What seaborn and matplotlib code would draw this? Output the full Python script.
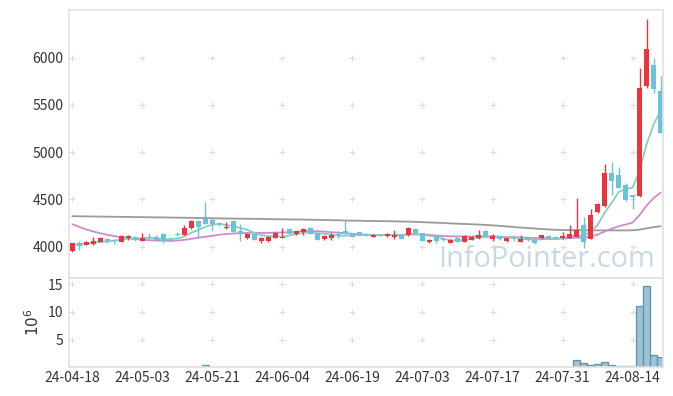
import matplotlib
matplotlib.use("Agg")
import matplotlib.pyplot as plt
import seaborn as sns
import pandas as pd
import numpy as np

# daily candles, one per trading day (index 0 = 24-04-18)
opens = [3950, 4036, 4021, 4025, 4053, 4085, 4064, 4053, 4089, 4103,
         4064, 4100, 4106, 4135, 4085, 4135, 4127, 4195, 4272, 4297,
         4286, 4248, 4195, 4275, 4163, 4092, 4135, 4060, 4060, 4096,
         4092, 4188, 4131, 4160, 4202, 4145, 4085, 4092, 4131, 4163,
         4138, 4152, 4131, 4103, 4124, 4110, 4103, 4124, 4120, 4191,
         4142, 4046, 4120, 4078, 4043, 4096, 4053, 4074, 4089, 4170,
         4085, 4110, 4057, 4092, 4053, 4089, 4074, 4089, 4117, 4103,
         4089, 4096, 4106, 4230, 4085, 4364, 4434, 4778, 4760, 4654,
         4544, 4541, 5702, 5925, 5649]
highs = [4040, 4064, 4058, 4100, 4100, 4092, 4078, 4125, 4125, 4110,
         4142, 4142, 4120, 4140, 4106, 4160, 4230, 4280, 4280, 4470,
         4290, 4265, 4260, 4280, 4240, 4145, 4140, 4100, 4110, 4150,
         4195, 4192, 4170, 4202, 4205, 4148, 4127, 4142, 4166, 4285,
         4142, 4156, 4140, 4130, 4135, 4140, 4180, 4128, 4206, 4195,
         4148, 4078, 4124, 4085, 4078, 4100, 4118, 4112, 4180, 4175,
         4130, 4115, 4092, 4127, 4127, 4092, 4078, 4124, 4120, 4110,
         4155, 4225, 4520, 4311, 4396, 4460, 4873, 4894, 4841, 4670,
         4550, 5890, 6409, 5995, 5811]
lows = [3945, 3965, 4015, 4020, 4050, 4040, 4025, 4050, 4075, 4064,
        4060, 4071, 4064, 4036, 4064, 4110, 4125, 4185, 4106, 4240,
        4170, 4220, 4190, 4155, 4060, 4085, 4065, 4036, 4050, 4090,
        4088, 4130, 4128, 4120, 4130, 4070, 4071, 4071, 4096, 4130,
        4100, 4120, 4110, 4100, 4110, 4106, 4078, 4080, 4115, 4140,
        4060, 4036, 4036, 4064, 4040, 4050, 4050, 4070, 4085, 4106,
        4060, 4074, 4053, 4060, 4050, 4060, 4032, 4085, 4085, 4082,
        4085, 4090, 4100, 3985, 4080, 4360, 4420, 4548, 4620, 4480,
        4402, 4523, 5678, 5625, 5200]
closes = [4035, 4010, 4050, 4064, 4092, 4057, 4057, 4113, 4113, 4071,
          4092, 4089, 4071, 4064, 4078, 4127, 4198, 4272, 4209, 4244,
          4237, 4240, 4212, 4160, 4142, 4138, 4071, 4096, 4106, 4145,
          4106, 4138, 4166, 4188, 4138, 4074, 4113, 4127, 4124, 4135,
          4106, 4127, 4120, 4127, 4117, 4135, 4127, 4085, 4202, 4145,
          4064, 4074, 4057, 4071, 4071, 4053, 4113, 4106, 4127, 4110,
          4110, 4078, 4089, 4085, 4078, 4067, 4039, 4120, 4089, 4090,
          4108, 4135, 4177, 4047, 4336, 4452, 4778, 4700, 4625, 4495,
          4523, 5681, 6095, 5671, 5208]

# moving averages
ma5 = [4020, 4025, 4032, 4040, 4050, 4055, 4064, 4077, 4086, 4082,
       4089, 4096, 4087, 4077, 4079, 4086, 4108, 4148, 4177, 4210,
       4232, 4240, 4228, 4219, 4198, 4178, 4145, 4121, 4111, 4111,
       4105, 4118, 4132, 4149, 4147, 4141, 4136, 4128, 4115, 4115,
       4121, 4124, 4122, 4123, 4119, 4125, 4125, 4118, 4133, 4139,
       4125, 4114, 4108, 4082, 4067, 4065, 4073, 4083, 4094, 4102,
       4113, 4106, 4103, 4094, 4088, 4079, 4072, 4078, 4079, 4081,
       4089, 4108, 4120, 4111, 4161, 4229, 4358, 4463, 4578, 4610,
       4624, 4805, 5084, 5293, 5436]
ma20 = [4237, 4208, 4182, 4160, 4142, 4125, 4112, 4100, 4090, 4080,
        4073, 4068, 4064, 4062, 4061, 4064, 4072, 4083, 4094, 4105,
        4115, 4126, 4134, 4139, 4142, 4146, 4147, 4146, 4146, 4149,
        4150, 4152, 4157, 4163, 4166, 4163, 4159, 4152, 4148, 4142,
        4136, 4130, 4125, 4123, 4122, 4122, 4125, 4124, 4129, 4129,
        4127, 4124, 4118, 4112, 4109, 4108, 4108, 4107, 4107, 4106,
        4106, 4104, 4102, 4100, 4098, 4095, 4091, 4093, 4087, 4084,
        4086, 4089, 4095, 4094, 4107, 4127, 4160, 4190, 4215, 4234,
        4255, 4335, 4435, 4514, 4571]
ma_long = [4322, 4321, 4320, 4319, 4318, 4317, 4316, 4315, 4314, 4313,
           4312, 4311, 4310, 4309, 4308, 4307, 4306, 4305, 4303, 4302,
           4300, 4299, 4298, 4297, 4296, 4295, 4294, 4293, 4291, 4290,
           4289, 4288, 4287, 4286, 4285, 4283, 4282, 4280, 4279, 4277,
           4275, 4274, 4272, 4271, 4270, 4269, 4268, 4266, 4265, 4262,
           4259, 4256, 4253, 4250, 4246, 4243, 4240, 4237, 4234, 4230,
           4225, 4220, 4214, 4208, 4202, 4197, 4192, 4187, 4182, 4178,
           4176, 4175, 4174, 4173, 4173, 4172, 4172, 4172, 4172, 4172,
           4173, 4180, 4194, 4206, 4216]

# volume in millions
volume = [0.02, 0.01, 0.02, 0.02, 0.02, 0.01, 0.01, 0.02, 0.02, 0.01,
          0.02, 0.01, 0.01, 0.02, 0.01, 0.01, 0.03, 0.03, 0.02, 0.45,
          0.03, 0.02, 0.02, 0.02, 0.02, 0.01, 0.02, 0.01, 0.01, 0.02,
          0.02, 0.02, 0.01, 0.02, 0.02, 0.02, 0.01, 0.01, 0.01, 0.02,
          0.01, 0.01, 0.01, 0.01, 0.01, 0.01, 0.02, 0.01, 0.02, 0.02,
          0.02, 0.01, 0.02, 0.01, 0.01, 0.01, 0.01, 0.01, 0.02, 0.01,
          0.01, 0.01, 0.01, 0.01, 0.01, 0.01, 0.01, 0.01, 0.01, 0.01,
          0.02, 0.03, 1.30, 0.83, 0.41, 0.60, 0.95, 0.41, 0.23, 0.23,
          0.23, 11.0, 14.65, 2.16, 1.80]

tick_labels = ["24-04-18", "24-05-03", "24-05-21", "24-06-04", "24-06-19",
               "24-07-03", "24-07-17", "24-07-31", "24-08-14"]
price_ticks = [4000, 4500, 5000, 5500, 6000]
vol_ticks = [5, 10, 15]

UP, DOWN = "#eb343b", "#6cc3d9"
SPINE = "#e2e2e2"

sns.set_theme(style="white")
plt.rcParams["font.family"] = ["Noto Sans CJK KR", "DejaVu Sans"]

df = pd.DataFrame({"day": range(len(closes)), "open": opens, "high": highs,
                   "low": lows, "close": closes, "vol": volume,
                   "ma5": ma5, "ma20": ma20, "ma_long": ma_long})
colors = [UP if c >= o else DOWN for o, c in zip(df["open"], df["close"])]
x_ticks = list(range(0, len(closes), 10))

W, H = 673, 396
fig = plt.figure(figsize=(W / 100, H / 100), dpi=100)
left, right = 69.3 / W, 663.4 / W
ax = fig.add_axes([left, 1 - 278 / H, right - left, 268 / H])
axv = fig.add_axes([left, 1 - 367.3 / H, right - left, 89.3 / H])

# moving averages (behind the candles)
sns.lineplot(data=df, x="day", y="ma_long", ax=ax, color="#9a9a9a", lw=1.3, zorder=2)
sns.lineplot(data=df, x="day", y="ma20", ax=ax, color="#cc8ccb", lw=1.3, zorder=2)
sns.lineplot(data=df, x="day", y="ma5", ax=ax, color="#8acdc0", lw=1.3, zorder=2)

# candles
ax.vlines(df["day"], df["low"], df["high"], colors=colors, lw=1, zorder=3)
body_lo = np.minimum(df["open"], df["close"])
body_h = np.abs(df["close"] - df["open"]).clip(lower=8)
ax.bar(df["day"], body_h, bottom=body_lo, width=0.72, color=colors, lw=0, zorder=4)

ax.text(0.62, 0.04, "InfoPointer.com", transform=ax.transAxes, fontsize=20.8,
        family="Open Sans", color="#c6d9e4", va="baseline", ha="left", zorder=1)

# volume
sns.barplot(data=df, x="day", y="vol", ax=axv, color="#9cc2d3", saturation=1,
            width=1.0, edgecolor="#5f93ad", linewidth=0.9, errorbar=None)

xmin, xmax = -0.43, 84.4
for a in (ax, axv):
    a.set_xlim(xmin, xmax)
    a.set_xlabel("")
    a.set_ylabel("")
    a.set_xticks(x_ticks)
    a.tick_params(length=0, labelsize=10, labelcolor="#333333", pad=4)
    for s in a.spines.values():
        s.set_color(SPINE)
        s.set_linewidth(1.2)
        s.set_zorder(5)

ax.set_ylim(3668, 6505)
ax.set_yticks(price_ticks)
ax.set_yticklabels([str(t) for t in price_ticks])
ax.set_xticklabels([])

axv.set_ylim(0, 16.1)
axv.set_yticks(vol_ticks)
axv.set_yticklabels([str(t) for t in vol_ticks])
axv.set_xticklabels(tick_labels)
axv.tick_params(axis="x", pad=3)
axv.set_ylabel(r"$10^{6}$", fontsize=11, color="#333333", labelpad=4)

# small "+" marks where grid lines would cross
gx, gy = np.meshgrid(x_ticks, price_ticks)
ax.plot(gx.ravel(), gy.ravel(), ls="", marker="+", ms=5, mew=0.8, color="#dcdcdc", zorder=0)
gx, gy = np.meshgrid(x_ticks, vol_ticks)
axv.plot(gx.ravel(), gy.ravel(), ls="", marker="+", ms=5, mew=0.8, color="#dcdcdc", zorder=0)

fig.savefig("out.png", dpi=100)
